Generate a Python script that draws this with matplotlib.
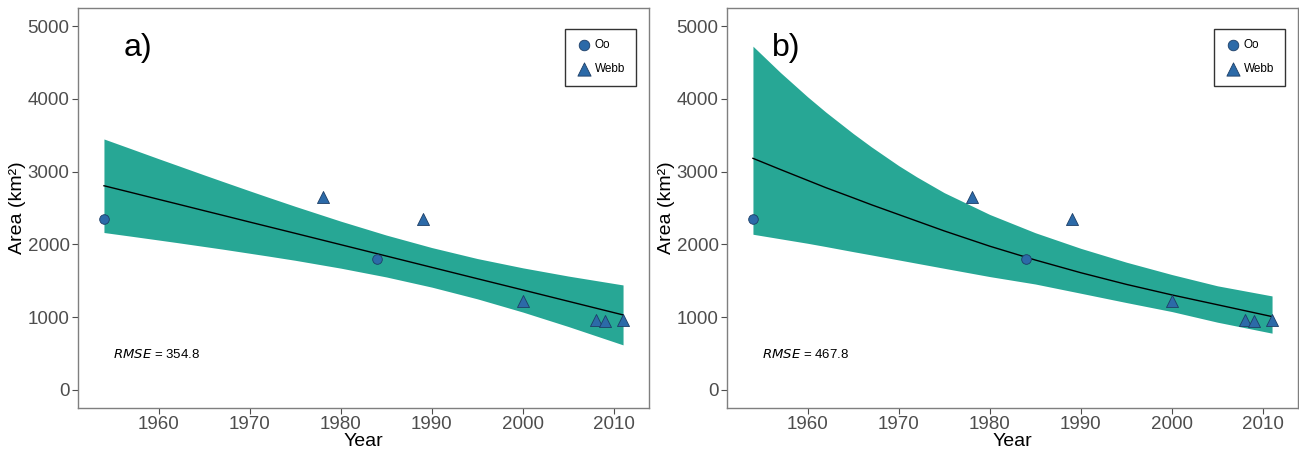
import matplotlib
matplotlib.use('Agg')
import matplotlib.pyplot as plt
import numpy as np

plt.rcParams['font.family'] = ['Liberation Sans', 'DejaVu Sans']

# observed areas
oo_year = [1954, 1984]
oo_area = [2350, 1800]
webb_year = [1978, 1989, 2000, 2008, 2009, 2011]
webb_area = [2650, 2350, 1220, 960, 950, 960]

# fitted curves and confidence bands
fit_year = [1954, 1957, 1960, 1962, 1965, 1967, 1970, 1972, 1975,
            1980, 1985, 1990, 1995, 2000, 2005, 2011]
lin_fit = [2806, 2713, 2619, 2557, 2463, 2401, 2307, 2245, 2152,
           1996, 1840, 1684, 1528, 1373, 1217, 1030]
lin_hi = [3449, 3314, 3178, 3089, 2955, 2867, 2736, 2650, 2523,
          2319, 2128, 1956, 1805, 1677, 1564, 1442]
lin_lo = [2163, 2112, 2060, 2025, 1971, 1935, 1878, 1840, 1781,
          1673, 1552, 1412, 1251, 1069, 870, 618]
exp_fit = [3183, 3030, 2880, 2780, 2640, 2545, 2410, 2320, 2185,
           1975, 1785, 1610, 1450, 1305, 1170, 1007]
exp_hi = [4725, 4365, 4029, 3819, 3525, 3341, 3083, 2927, 2711,
          2411, 2160, 1945, 1755, 1585, 1430, 1291]
exp_lo = [2139, 2077, 2015, 1970, 1900, 1855, 1786, 1740, 1671,
          1557, 1455, 1328, 1200, 1076, 930, 779]

panels = [('a)', lin_fit, lin_hi, lin_lo, ' = 354.8', 78),
          ('b)', exp_fit, exp_hi, exp_lo, ' = 467.8', 727)]

W, H = 1299, 450
fig = plt.figure(figsize=(W/100, H/100), dpi=100)

band_col = '#27a795'
pt_col = '#2c6aa8'
pt_edge = '#1d3e66'
frame_col = '#7f7f7f'
tick_col = '#4d4d4d'

for tag, fit, hi, lo, rmse, left in panels:
    ax = fig.add_axes([left/W, 42/H, 571/W, 400/H])
    ax.fill_between(fit_year, lo, hi, color=band_col, linewidth=0, zorder=1)
    ax.plot(fit_year, fit, color='black', linewidth=1.0, zorder=2)
    ax.scatter(oo_year, oo_area, marker='o', s=48, color=pt_col,
               edgecolors=pt_edge, linewidths=0.6, zorder=3, label='Oo')
    ax.scatter(webb_year, webb_area, marker='^', s=75, color=pt_col,
               edgecolors=pt_edge, linewidths=0.6, zorder=3, label='Webb')

    ax.set_xlim(1951.15, 2013.85)
    ax.set_ylim(-250, 5250)
    ax.set_xticks([1960, 1970, 1980, 1990, 2000, 2010])
    ax.set_yticks([0, 1000, 2000, 3000, 4000, 5000])
    ax.tick_params(colors=tick_col, labelsize=13.5, length=4, width=0.8, pad=2)
    for s in ax.spines.values():
        s.set_color(frame_col)
        s.set_linewidth(1.0)

    ax.set_xlabel('Year', fontsize=14, labelpad=0)
    ax.set_ylabel('Area (km²)', fontsize=14, labelpad=1)

    ax.text(1957.7, 4700, tag, fontsize=23, ha='center', va='center')
    ax.text(1955.0, 480, r'$\it{RMSE}$' + rmse, fontsize=9.5,
            ha='left', va='center')

    leg = ax.legend(loc='upper right', bbox_to_anchor=(0.977, 0.948),
                    fontsize=8.5, frameon=True, fancybox=False,
                    borderpad=0.9, labelspacing=1.0, handletextpad=0.2,
                    handlelength=1.4, borderaxespad=0, scatterpoints=1,
                    markerscale=1.1)
    leg.get_frame().set_edgecolor('black')
    leg.get_frame().set_linewidth(1.0)

plt.savefig('out.png', dpi=100)
